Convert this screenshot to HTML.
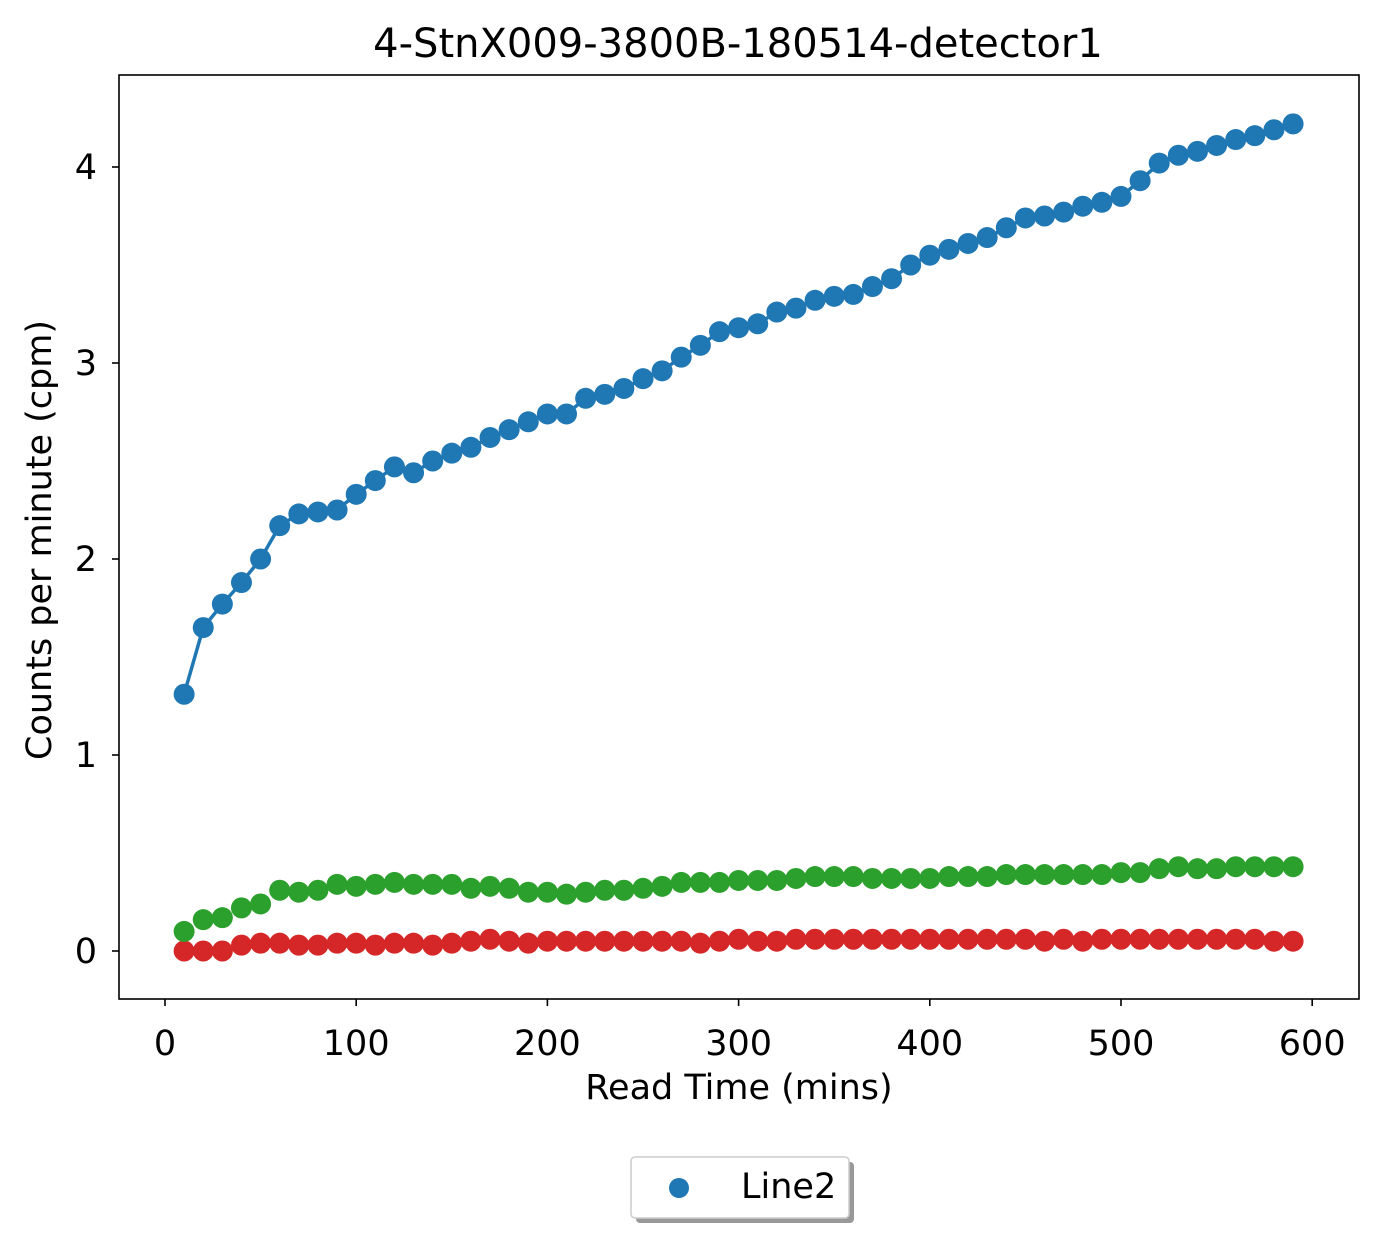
<!DOCTYPE html>
<html><head><meta charset="utf-8"><style>
body{margin:0;background:#fff}
svg text{font-family:"DejaVu Sans","Liberation Sans",sans-serif;fill:#000}
</style></head><body>
<svg width="1387" height="1243" viewBox="0 0 1387 1243">
<text x="738" y="57" font-size="40" text-anchor="middle">4-StnX009-3800B-180514-detector1</text>
<g id="plot"></g>
<rect x="119" y="75" width="1240" height="924" fill="none" stroke="#000" stroke-width="1.6"/>
<g id="axes"></g>
<text x="739" y="1099" font-size="35" text-anchor="middle">Read Time (mins)</text>
<text transform="translate(51,540) rotate(-90)" font-size="35" text-anchor="middle">Counts per minute (cpm)</text>
<g>
<rect x="636" y="1162" width="218" height="61" rx="4" fill="#999" />
<rect x="631" y="1157" width="218" height="61" rx="4" fill="#fff" stroke="#ccc" stroke-width="1.5"/>
<circle cx="679" cy="1188" r="10" fill="#1f77b4"/>
<text x="741" y="1198" font-size="35">Line2</text>
</g>
</svg>
<script>
const xs=[];for(let i=1;i<=59;i++)xs.push(i*10);
const blue=[1.31,1.65,1.77,1.88,2.0,2.17,2.23,2.24,2.25,2.33,2.40,2.47,2.44,2.50,2.54,2.57,2.62,2.66,2.70,2.74,2.74,2.82,2.84,2.87,2.92,2.96,3.03,3.09,3.16,3.18,3.20,3.26,3.28,3.32,3.34,3.35,3.39,3.43,3.50,3.55,3.58,3.61,3.64,3.69,3.74,3.75,3.77,3.80,3.82,3.85,3.93,4.02,4.06,4.08,4.11,4.14,4.16,4.19,4.22];
const green=[0.10,0.16,0.17,0.22,0.24,0.31,0.30,0.31,0.34,0.33,0.34,0.35,0.34,0.34,0.34,0.32,0.33,0.32,0.30,0.30,0.29,0.30,0.31,0.31,0.32,0.33,0.35,0.35,0.35,0.36,0.36,0.36,0.37,0.38,0.38,0.38,0.37,0.37,0.37,0.37,0.38,0.38,0.38,0.39,0.39,0.39,0.39,0.39,0.39,0.40,0.40,0.42,0.43,0.42,0.42,0.43,0.43,0.43,0.43];
const red=[0,0,0,0.03,0.04,0.04,0.03,0.03,0.04,0.04,0.03,0.04,0.04,0.03,0.04,0.05,0.06,0.05,0.04,0.05,0.05,0.05,0.05,0.05,0.05,0.05,0.05,0.04,0.05,0.06,0.05,0.05,0.06,0.06,0.06,0.06,0.06,0.06,0.06,0.06,0.06,0.06,0.06,0.06,0.06,0.05,0.06,0.05,0.06,0.06,0.06,0.06,0.06,0.06,0.06,0.06,0.06,0.05,0.05];
const xTicks=[0,100,200,300,400,500,600];
const yTicks=[0,1,2,3,4];
const NS="http://www.w3.org/2000/svg";
const X=v=>165+v*1.912, Y=v=>951-v*196;
const plot=document.getElementById('plot'), axes=document.getElementById('axes');
function mk(tag,attrs,parent){const e=document.createElementNS(NS,tag);for(const k in attrs)e.setAttribute(k,attrs[k]);parent.appendChild(e);return e;}
function series(vals,color,name,line){
  const g=mk('g',{},plot);
  
  
  if(line){const p=mk('polyline',{points:xs.map((x,i)=>X(x)+','+Y(vals[i])).join(' '),fill:'none',stroke:color,'stroke-width':3.5},g);
    
    }
  vals.forEach((v,i)=>{const c=mk('circle',{cx:X(xs[i]),cy:Y(v),r:10.5,fill:color},g);
    
    });
}
series(red,'#d62728','red-series',false);
series(green,'#2ca02c','green-series',false);
series(blue,'#1f77b4','blue-series',true);
xTicks.forEach(t=>{const x=X(t);
  const l=mk('line',{x1:x,x2:x,y1:999,y2:1006,stroke:'#000','stroke-width':1.6},axes);
  
  
  const tx=mk('text',{x:x,y:1055,'font-size':35,'text-anchor':'middle'},axes);tx.textContent=t;
  
  });
yTicks.forEach(t=>{const y=Y(t);
  const l=mk('line',{x1:112,x2:119,y1:y,y2:y,stroke:'#000','stroke-width':1.6},axes);
  
  
  const tx=mk('text',{x:97,y:y+12,'font-size':35,'text-anchor':'end'},axes);tx.textContent=t;
  
  });
</script>
</body></html>
